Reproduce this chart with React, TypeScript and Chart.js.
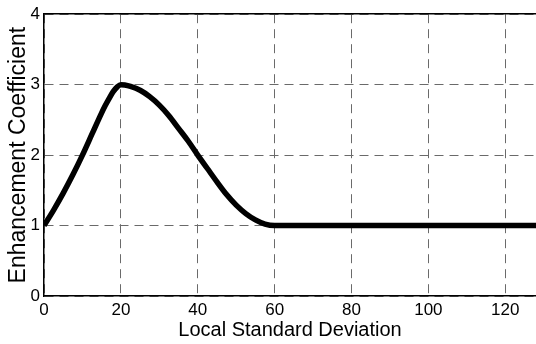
import React, { useEffect, useRef } from "react";
import { Chart, registerables } from "chart.js";

Chart.register(...registerables);

const xValues = [0, 2.5, 5, 7.5, 10, 12.5, 15, 16, 17, 18, 19, 20, 21, 22.5, 25, 27.5, 30, 32.5, 35, 37.5, 40, 42.5, 45, 47.5, 50, 52.5, 55, 57.5, 60, 128];
const yValues = [1, 1.22, 1.46, 1.72, 2.0, 2.3, 2.6, 2.71, 2.81, 2.9, 2.965, 3.0, 2.995, 2.975, 2.92, 2.83, 2.71, 2.56, 2.38, 2.2, 2.0, 1.81, 1.62, 1.44, 1.29, 1.17, 1.08, 1.02, 1.0, 1.0];
const xTicks = [0, 20, 40, 60, 80, 100, 120];
const yTicks = [0, 1, 2, 3, 4];
const xTitle = "Local Standard Deviation";
const yTitle = "Enhancement Coefficient";

export default function App() {
  const ref = useRef<HTMLCanvasElement>(null);
  useEffect(() => {
    document.body.style.margin = "0";
    const canvas = ref.current;
    if (!canvas) return;
    Chart.defaults.font.family = "'Liberation Sans', Arial, sans-serif";
    Chart.defaults.color = "#000";
    const chart = new Chart(canvas, {
      type: "line",
      data: {
        datasets: [
          {
            data: xValues.map((x, i) => ({ x, y: yValues[i] })),
            borderColor: "#000",
            borderWidth: 5.5,
            pointRadius: 0,
            cubicInterpolationMode: "monotone",
            borderJoinStyle: "round",
            fill: false,
          },
        ],
      },
      options: {
        animation: false,
        responsive: false,
        devicePixelRatio: 1,
        layout: { padding: { top: 13, right: 0, left: 0, bottom: 0 } },
        plugins: { legend: { display: false }, tooltip: { enabled: false } },
        scales: {
          x: {
            type: "linear",
            position: "bottom",
            min: 0,
            max: 128,
            afterBuildTicks: (s: any) => {
              s.ticks = xTicks.map((v) => ({ value: v }));
            },
            afterFit: (s: any) => {
              s.height = 48;
            },
            ticks: { font: { size: 17 }, padding: 4, maxRotation: 0, color: "#000" },
            grid: { color: "#6a6a6a", lineWidth: 1, drawTicks: false },
            border: { color: "#000", width: 1.5, dash: [9, 6] },
            title: { display: true, text: xTitle, font: { size: 20 }, padding: { top: 0, bottom: 2 }, color: "#000" },
          },
          x2: {
            type: "linear",
            position: "top",
            min: 0,
            max: 128,
            afterFit: (s: any) => {
              s.height = 0;
            },
            ticks: { display: false },
            grid: { display: false, drawTicks: false },
            border: { display: true, color: "#000", width: 1.5 },
          },
          y: {
            type: "linear",
            min: 0,
            max: 4,
            afterBuildTicks: (s: any) => {
              s.ticks = yTicks.map((v) => ({ value: v }));
            },
            afterFit: (s: any) => {
              s.width = 44;
            },
            ticks: { font: { size: 17 }, padding: 4, color: "#000" },
            grid: { color: "#6a6a6a", lineWidth: 1, drawTicks: false },
            border: { color: "#000", width: 1.5, dash: [9, 6] },
            title: { display: true, text: yTitle, font: { size: 23 }, padding: { top: 5, bottom: 0 }, color: "#000" },
          },
        },
      },
    });
    return () => chart.destroy();
  }, []);
  return <canvas ref={ref} width={536} height={344} style={{ display: "block" }} />;
}
